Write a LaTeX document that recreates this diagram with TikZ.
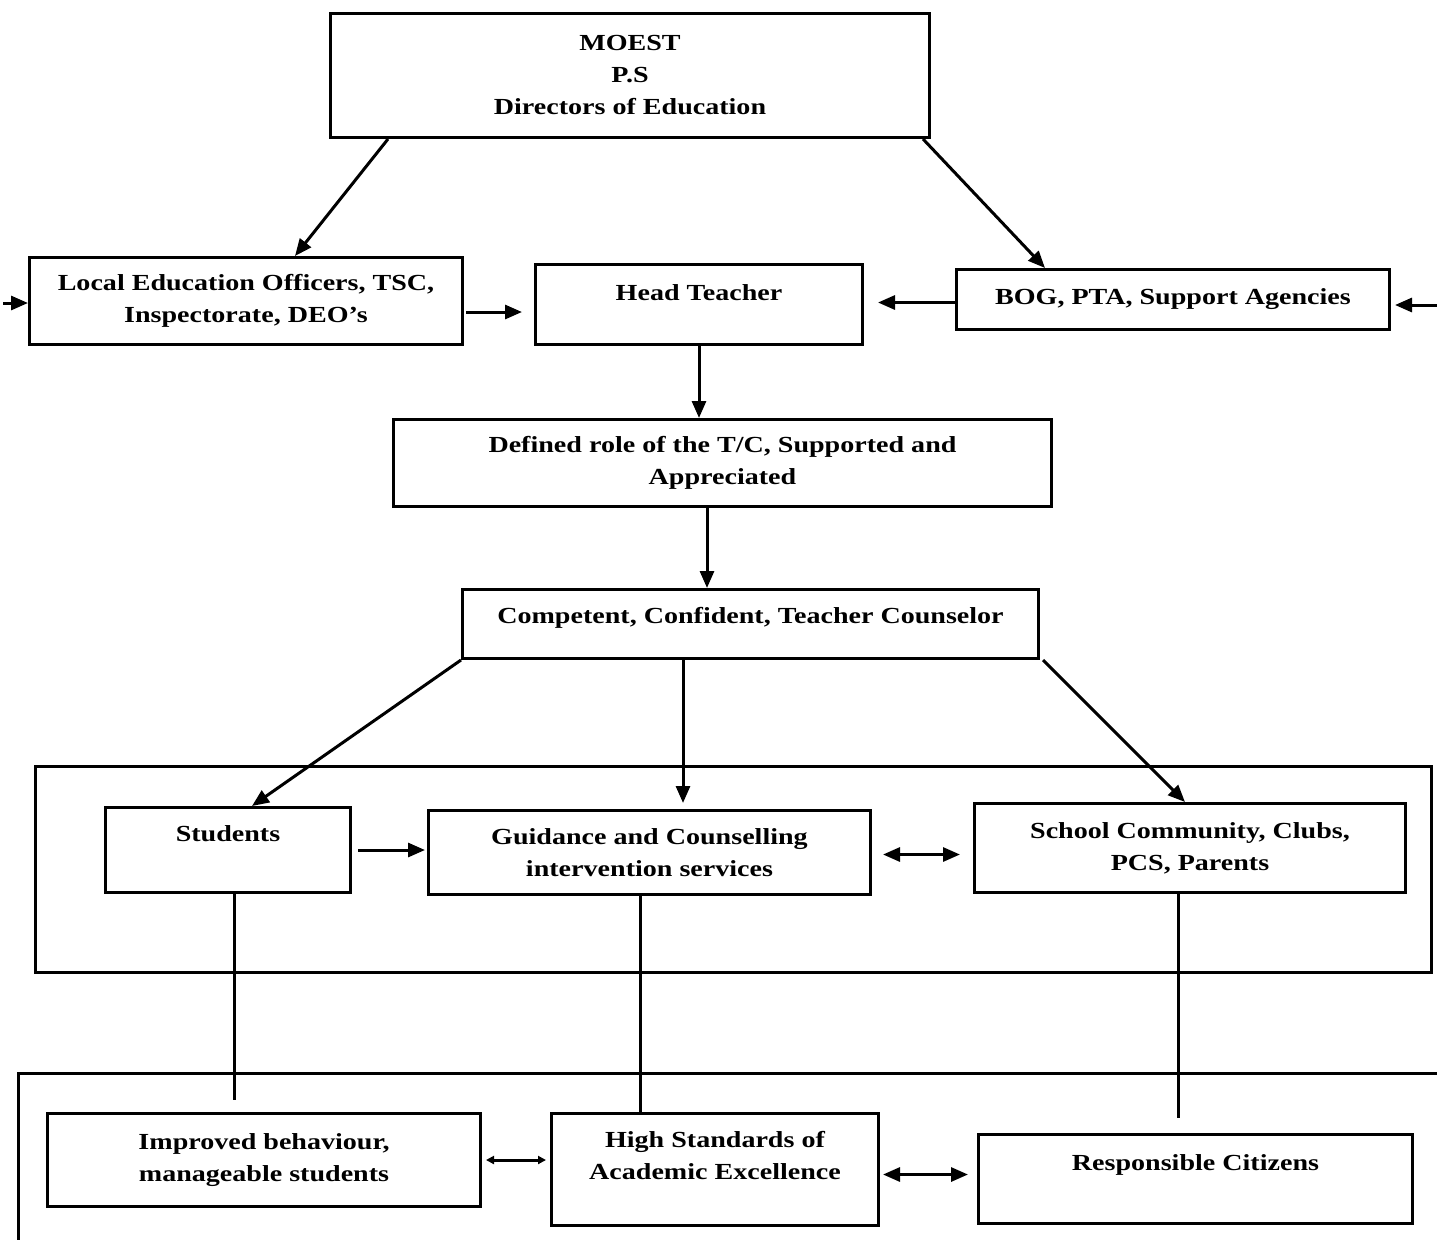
\documentclass[tikz,border=0pt]{standalone}
\usepackage{fontspec}
\setmainfont{Liberation Serif}[FakeStretch=1.22]
\usetikzlibrary{arrows.meta,positioning}

\begin{document}
\begin{tikzpicture}[
  x=1pt, y=-1pt,
  box/.style={draw,line width=3pt,anchor=north west,inner sep=0pt,align=center,
    font=\fontsize{23}{32}\selectfont\bfseries},
  line/.style={line width=3pt},
  arr/.style={line,-{Triangle[length=17pt,width=14pt]}},
  dbl/.style={line,{Triangle[length=17pt,width=14pt]}-{Triangle[length=17pt,width=14pt]}},
  dblsmall/.style={line,{Triangle[length=8pt,width=8pt]}-{Triangle[length=8pt,width=8pt]}}
]
  \useasboundingbox (0,0) rectangle (1437,1240);

  % top level
  \node[box, minimum width=599pt, minimum height=124pt] (moest) at (329,12)
    {MOEST\\P.S\\Directors of Education};
  \node[box, minimum width=433pt, minimum height=87pt] (local) at (28,256)
    {Local Education Officers, TSC,\\Inspectorate, DEO's};
  \node[box, minimum width=327pt, minimum height=80pt, text depth=24pt] (head) at (534,263)
    {Head Teacher};
  \node[box, minimum width=433pt, minimum height=60pt] (bog) at (955,268)
    {BOG, PTA, Support Agencies};
  \node[box, minimum width=658pt, minimum height=87pt] (defined) at (392,418)
    {Defined role of the T/C, Supported and\\Appreciated};
  \node[box, minimum width=576pt, minimum height=69pt, text depth=17pt] (competent) at (461,588)
    {Competent, Confident, Teacher Counselor};

  % services panel
  \draw[line] (35,766) rectangle (1431,972);
  \node[box, minimum width=245pt, minimum height=85pt, text depth=32pt] (students) at (104,806)
    {Students};
  \node[box, minimum width=442pt, minimum height=84pt] (guidance) at (427,809)
    {Guidance and Counselling\\intervention services};
  \node[box, minimum width=431pt, minimum height=89pt] (school) at (973,802)
    {School Community, Clubs,\\PCS, Parents};

  % outcomes panel
  \draw[line] (1437,1073) -- (18,1073) -- (18,1240);
  \node[box, minimum width=433pt, minimum height=93pt] (improved) at (46,1112)
    {Improved behaviour,\\manageable students};
  \node[box, minimum width=327pt, minimum height=112pt] (high) at (550,1112)
    {High Standards of\\Academic Excellence\\[-4pt]\mbox{}};
  \node[box, minimum width=434pt, minimum height=89pt, text depth=33pt] (responsible) at (977,1133)
    {Responsible Citizens};

  % helper points
  \coordinate (inL) at (3,303);
  \coordinate (inR) at (1437,305);
  \coordinate (lh) at ([yshift=-11pt]local.east);
  \coordinate (bh) at ([yshift=-3pt]bog.west);
  \coordinate (dc) at ([xshift=315pt]defined.south west);
  \coordinate (cg) at ([xshift=222pt]competent.south west);
  \coordinate (gs) at ([yshift=-2pt]guidance.east);
  \coordinate (si) at ([xshift=130pt]students.south west);
  \coordinate (gh) at ([xshift=213pt]guidance.south west);
  \coordinate (sr) at ([xshift=205pt]school.south west);
  \coordinate (hr) at ([yshift=-5pt]high.east);

  \draw[arr] ([xshift=59pt]moest.south west) -- ([xshift=267pt]local.north west);
  \draw[arr] ([xshift=-8pt]moest.south east) -- ([xshift=90pt]bog.north west);
  \draw[arr] (inL) -- (inL -| local.west);
  \draw[arr, shorten >=4pt] (inR) -- (inR -| bog.east);
  \draw[arr, shorten <=2pt, shorten >=12pt] (lh) -- (lh -| head.west);
  \draw[arr, shorten >=14pt] (bh) -- (bh -| head.east);
  \draw[arr] (head.south) -- (head.south |- defined.north);
  \draw[arr] (dc) -- (dc |- competent.north);

  \draw[arr] (competent.south west) -- ([xshift=148pt]students.north west);
  \draw[arr, shorten >=6pt] (cg) -- (cg |- guidance.north);
  \draw[arr] ([xshift=3pt]competent.south east) -- ([xshift=212pt]school.north west);
  \draw[arr, shorten <=6pt, shorten >=2pt] (students.east) -- (students.east -| guidance.west);
  \draw[dbl, shorten <=11pt, shorten >=13pt] (gs) -- (gs -| school.west);

  \draw[line, shorten >=12pt] (si) -- (si |- improved.north);
  \draw[line] (gh) -- (gh |- high.north);
  \draw[line, shorten >=15pt] (sr) -- (sr |- responsible.north);
  \draw[dblsmall, shorten <=4pt, shorten >=4pt] (improved.east) -- (improved.east -| high.west);
  \draw[dbl, shorten <=3pt, shorten >=9pt] (hr) -- (hr -| responsible.west);
\end{tikzpicture}
\end{document}
